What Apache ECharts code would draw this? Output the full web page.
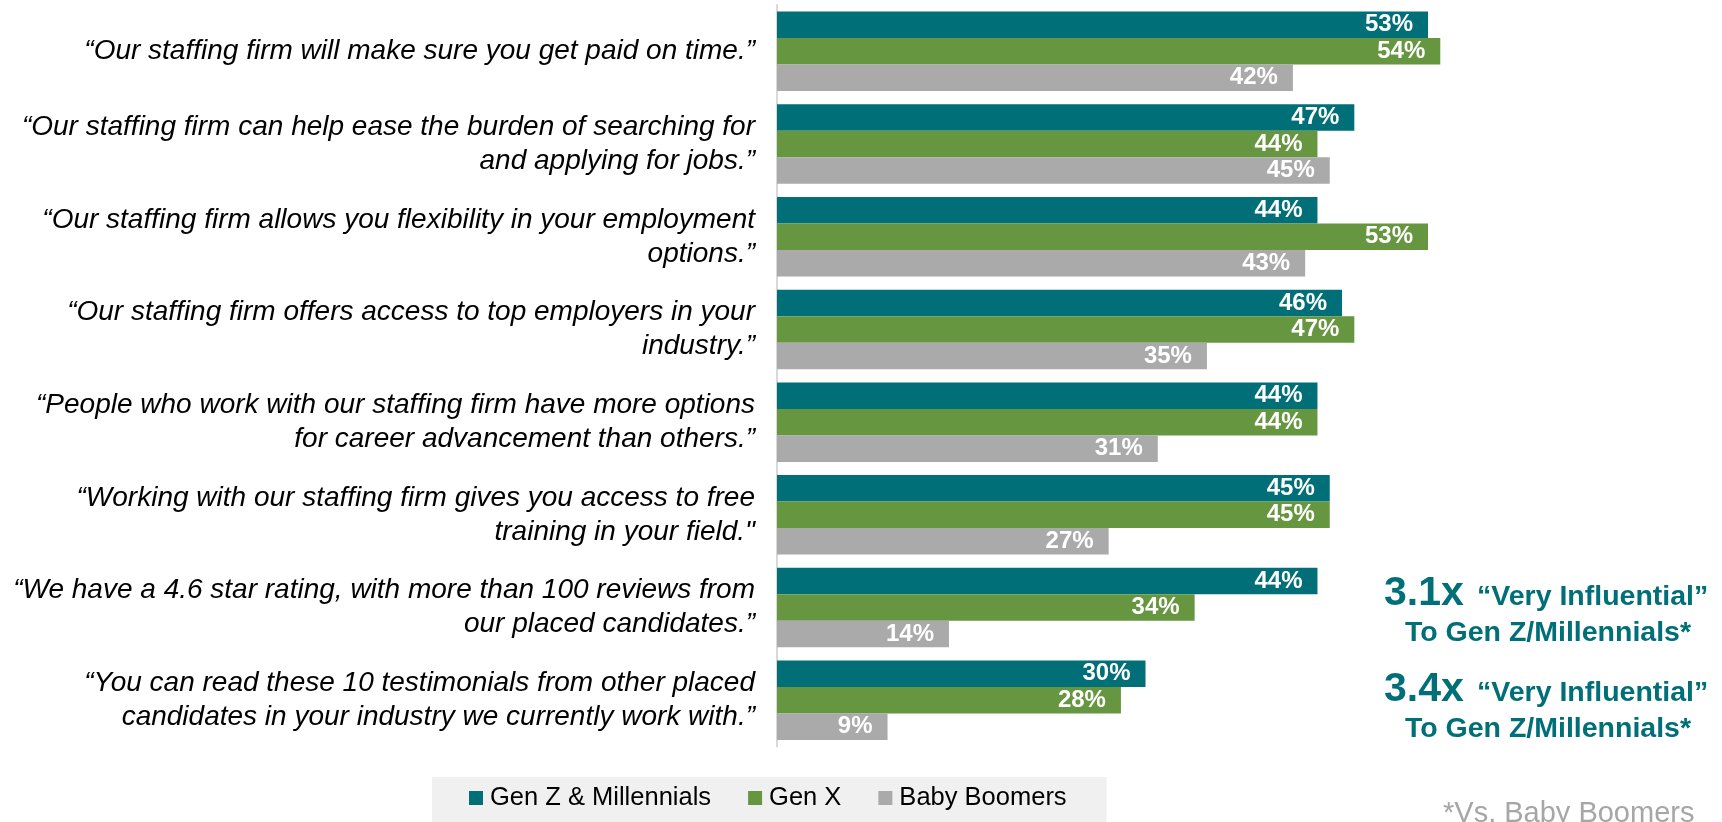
<!DOCTYPE html>
<html>
<head>
<meta charset="utf-8">
<script src="https://cdn.jsdelivr.net/npm/echarts@6/dist/echarts.min.js"></script>
<style>
html,body{margin:0;padding:0;background:#fff;}
#chart{width:1722px;height:822px;}
</style>
</head>
<body>
<div id="chart"></div>
<script>
var categories = [
  '“Our staffing firm will make sure you get paid on time.”',
  '“Our staffing firm can help ease the burden of searching for\nand applying for jobs.”',
  '“Our staffing firm allows you flexibility in your employment\noptions.”',
  '“Our staffing firm offers access to top employers in your\nindustry.”',
  '“People who work with our staffing firm have more options\nfor career advancement than others.”',
  '“Working with our staffing firm gives you access to free\ntraining in your field."',
  '“We have a 4.6 star rating, with more than 100 reviews from\nour placed candidates.”',
  '“You can read these 10 testimonials from other placed\ncandidates in your industry we currently work with.”'
];
var seriesNames = ['Gen Z & Millennials', 'Gen X', 'Baby Boomers'];
var genZ = [53, 47, 44, 46, 44, 45, 44, 30];
var genX = [54, 44, 53, 47, 44, 45, 34, 28];
var boomers = [42, 45, 43, 35, 31, 27, 14, 9];
var callouts = [
  { big: '3.1x', small: '“Very Influential”', line2: 'To Gen Z/Millennials*' },
  { big: '3.4x', small: '“Very Influential”', line2: 'To Gen Z/Millennials*' }
];
var footnote = '*Vs. Baby Boomers';

var colors = ['#006f77', '#679640', '#aaaaaa'];
var FONT = '"Liberation Sans", Arial, sans-serif';
var TEAL = '#006f77';

function mkSeries(name, data, color) {
  return {
    name: name,
    type: 'bar',
    data: data,
    barWidth: 26.5,
    barGap: '0%',
    itemStyle: { color: color },
    label: {
      show: true,
      position: 'insideRight',
      distance: 15,
      formatter: '{c}%',
      color: '#ffffff',
      fontWeight: 'bold',
      fontSize: 24,
      fontFamily: FONT
    },
    emphasis: { disabled: true },
    animation: false
  };
}

var graphics = [];
callouts.forEach(function (c, i) {
  var dy = i * 96;
  graphics.push({
    type: 'text', x: 1384, y: 594 + dy,
    style: { text: c.big, fill: TEAL, font: 'bold 41px ' + FONT, align: 'left', verticalAlign: 'middle' }
  });
  graphics.push({
    type: 'text', x: 1477, y: 597 + dy,
    style: { text: c.small, fill: TEAL, font: 'bold 28.5px ' + FONT, align: 'left', verticalAlign: 'middle' }
  });
  graphics.push({
    type: 'text', x: 1548, y: 633 + dy,
    style: { text: c.line2, fill: TEAL, font: 'bold 28.5px ' + FONT, align: 'center', verticalAlign: 'middle' }
  });
});
graphics.push({
  type: 'text', x: 1443, y: 814,
  style: { text: footnote, fill: '#a6a6a6', font: '29px ' + FONT, align: 'left', verticalAlign: 'middle' }
});

var chart = echarts.init(document.getElementById('chart'), null, { renderer: 'canvas' });
chart.setOption({
  animation: false,
  textStyle: { fontFamily: FONT },
  grid: { left: 777, top: 5, width: 737, height: 741.6, containLabel: false },
  xAxis: {
    type: 'value', min: 0, max: 60,
    show: false
  },
  yAxis: {
    type: 'category',
    data: categories,
    inverse: true,
    axisLine: { show: true, lineStyle: { color: '#d9d9d9', width: 2 } },
    axisTick: { show: false },
    splitLine: { show: false },
    axisLabel: {
      margin: 22,
      fontSize: 28,
      fontStyle: 'italic',
      color: '#000000',
      lineHeight: 34,
      fontFamily: FONT,
      align: 'right'
    }
  },
  legend: {
    data: seriesNames,
    left: 432,
    top: 777,
    padding: [8, 40, 18, 37],
    backgroundColor: '#f0f0f0',
    itemWidth: 14,
    itemHeight: 14,
    itemGap: 37,
    icon: 'rect',
    selectedMode: false,
    textStyle: { fontSize: 25.5, color: '#000000', fontFamily: FONT, padding: [0, 0, 0, 2] }
  },
  series: [
    mkSeries(seriesNames[0], genZ, colors[0]),
    mkSeries(seriesNames[1], genX, colors[1]),
    mkSeries(seriesNames[2], boomers, colors[2])
  ],
  graphic: graphics
});
</script>
</body>
</html>
